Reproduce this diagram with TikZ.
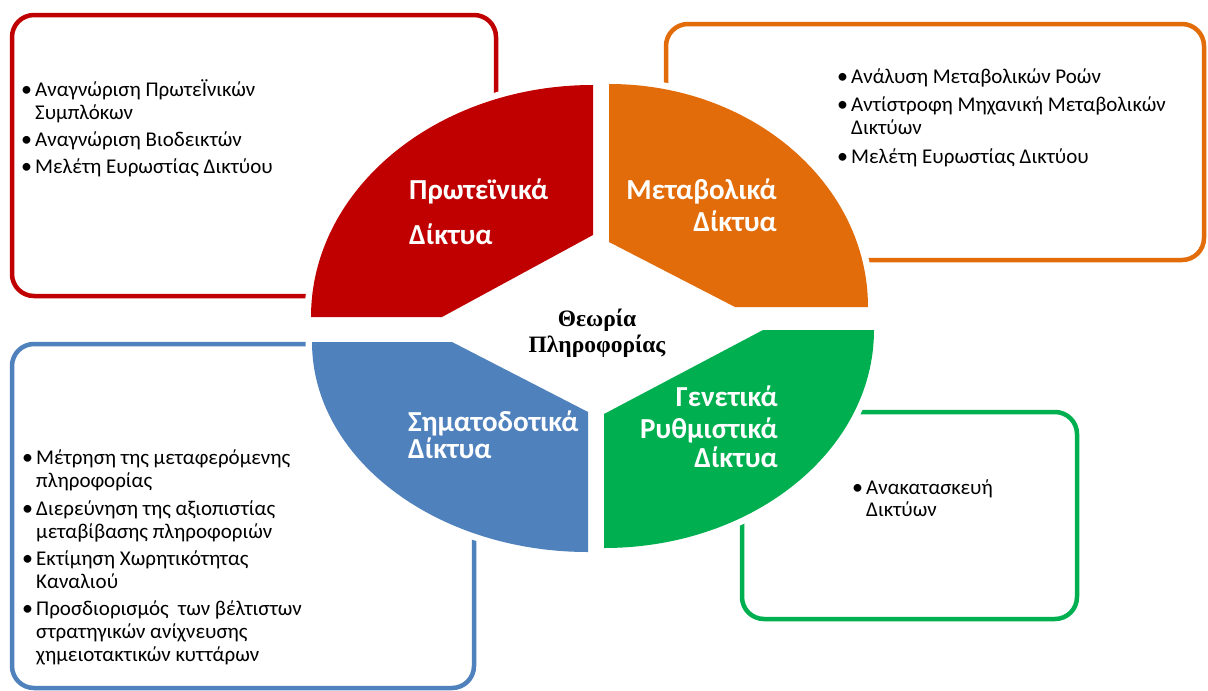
\documentclass[tikz,border=0pt]{standalone}
\usepackage{fontspec}
\setmainfont{Carlito}
\newfontfamily\serifb{Liberation Serif}
\definecolor{cred}{RGB}{192,0,0}
\definecolor{corange}{RGB}{227,108,10}
\definecolor{cblue}{RGB}{79,129,189}
\definecolor{cgreen}{RGB}{0,176,80}
\tikzset{
  boxframe/.style={line width=4.5pt, rounded corners=22pt},
  sector/.style={preaction={draw=white, line width=13pt}},
  bt/.style={anchor=base west, inner sep=0pt, font=\fontsize{21}{23}\selectfont},
  bul/.style={anchor=base west, inner sep=0pt, font=\fontsize{22}{23}\selectfont},
  labl/.style={inner sep=0pt, text=white, font=\fontsize{29}{32}\selectfont\bfseries},
  ctext/.style={inner sep=0pt, anchor=base, font=\fontsize{23.5}{25}\selectfont\serifb\bfseries}
}
\begin{document}
\begin{tikzpicture}[x=1pt,y=-1pt]
\useasboundingbox (0,0) rectangle (1208,691);
\fill[white] (0,0) rectangle (1208,691);

% boxes
\draw[boxframe,cred] (12,15) rectangle (496,296);
\draw[boxframe,corange] (666,24) rectangle (1204,260);
\draw[boxframe,cblue] (12,344) rectangle (474,688);
\draw[boxframe,cgreen] (742,412) rectangle (1077,619);

% sectors
\fill[sector,cred] (593,235) -- (442,317) -- (311,317)
  arc[start angle=180, end angle=270, x radius=282, y radius=232] -- cycle;
\fill[sector,corange] (609,242) -- (609,84)
  arc[start angle=270, end angle=360, x radius=259, y radius=223] -- (735,307) -- cycle;
\fill[sector,cblue] (452,342) -- (588,412) -- (588,552)
  arc[start angle=90, end angle=180, x radius=276, y radius=210] -- cycle;
\fill[sector,cgreen] (604,414) -- (604,548)
  arc[start angle=90, end angle=0, x radius=270, y radius=218] -- (763,330) -- cycle;

% sector labels
\node[labl, anchor=base west] (r1) at (409,199) {Πρωτεϊνικά};
\node[labl, anchor=base west] (r2) at (409,244) {Δίκτυα};
\node[labl, anchor=base east] (o1) at (777,199) {Μεταβολικά};
\node[labl, anchor=base east] (o2) at (777,231) {Δίκτυα};
\node[labl, anchor=base west] (b1) at (408,431) {Σηματοδοτικά};
\node[labl, anchor=base west] (b2) at (408,458) {Δίκτυα};
\node[labl, anchor=base east] (g1) at (778,406) {Γενετικά};
\node[labl, anchor=base east] (g2) at (778,438) {Ρυθμιστικά};
\node[labl, anchor=base east] (g3) at (778,467) {Δίκτυα};

% centre
\node[ctext] (c1) at (597,326) {Θεωρία};
\node[ctext] (c2) at (597,352) {Πληροφορίας};

% red box text
\node[bul] (rb1) at (21,96) {•};
\node[bt] (rt1) at (35,96) {Αναγνώριση ΠρωτεΪνικών};
\node[bt] (rt1b) at (35,119) {Συμπλόκων};
\node[bul] (rb2) at (21,146) {•};
\node[bt] (rt2) at (35,146) {Αναγνώριση Βιοδεικτών};
\node[bul] (rb3) at (21,173) {•};
\node[bt] (rt3) at (35,173) {Μελέτη Ευρωστίας Δικτύου};

% orange box text
\node[bul] (ob1) at (837,83) {•};
\node[bt] (ot1) at (851,83) {Ανάλυση Μεταβολικών Ροών};
\node[bul] (ob2) at (837,111) {•};
\node[bt] (ot2) at (851,111) {Αντίστροφη Μηχανική Μεταβολικών};
\node[bt] (ot2b) at (851,134) {Δικτύων};
\node[bul] (ob3) at (837,163) {•};
\node[bt] (ot3) at (851,163) {Μελέτη Ευρωστίας Δικτύου};

% blue box text
\node[bul] (bb1) at (22,464) {•};
\node[bt] (bt1) at (36,464) {Μέτρηση της μεταφερόμενης};
\node[bt] (bt1b) at (36,487) {πληροφορίας};
\node[bul] (bb2) at (22,515) {•};
\node[bt] (bt2) at (36,515) {Διερεύνηση της αξιοπιστίας};
\node[bt] (bt2b) at (36,538) {μεταβίβασης πληροφοριών};
\node[bul] (bb3) at (22,565) {•};
\node[bt] (bt3) at (36,565) {Εκτίμηση Χωρητικότητας};
\node[bt] (bt3b) at (36,588) {Καναλιού};
\node[bul] (bb4) at (22,615) {•};
\node[bt] (bt4) at (36,615) {Προσδιορισμός\ \ των βέλτιστων};
\node[bt] (bt4b) at (36,638) {στρατηγικών ανίχνευσης};
\node[bt] (bt4c) at (36,661) {χημειοτακτικών κυττάρων};

% green box text
\node[bul] (gb1) at (852,494) {•};
\node[bt] (gt1) at (866,494) {Ανακατασκευή};
\node[bt] (gt1b) at (866,516) {Δικτύων};
\end{tikzpicture}
\end{document}
